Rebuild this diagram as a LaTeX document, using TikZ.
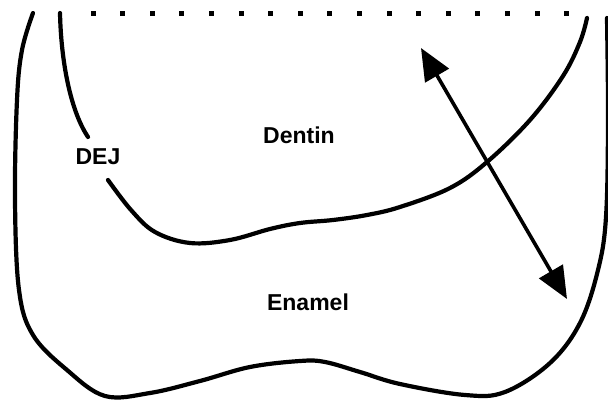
\documentclass[tikz,border=0pt]{standalone}
\usepackage{fontspec}
\setmainfont{Liberation Sans}
\usetikzlibrary{arrows.meta}

\tikzset{
    boundary/.style={line width=4.2pt, line cap=round, line join=round},
    tissue/.style={font=\bfseries\fontsize{23}{26}\selectfont, inner sep=2pt},
    marker/.style={fill=black, minimum size=5pt, inner sep=0pt, rectangle},
}

\begin{document}
\begin{tikzpicture}[x=1pt,y=-1pt]
    \useasboundingbox (0,0) rectangle (608,403);

    % cut edge along the top
    \foreach \k in {0,...,16}
        \node[marker] (dot\k) at (93+29.6*\k,14) {};

    % outer enamel surface
    \draw[boundary] plot[smooth, tension=0.6] coordinates {
        (33,13) (22,50) (17,100) (15,200) (19,290) (33,335) (67,370)
        (105,396) (150,393) (200,381) (250,367) (300,361) (325,362)
        (360,372) (400,384) (465,395) (505,392) (550,363) (580,323)
        (598,270) (606,217) (608,120) (607,18)};

    % dentino-enamel junction, broken for its label
    \draw[boundary] (60,13) .. controls (61,60) and (70,110) .. (88,137);
    \draw[boundary] plot[smooth, tension=0.6] coordinates {
        (108,180) (131,210) (155,232) (190,243) (230,240) (270,229)
        (300,223) (333,220) (367,215) (400,207) (450,188) (487,162)
        (530,120) (563,76) (580,42) (587,18)};

    \node[tissue] (dej) at (98,157) {DEJ};
    \node[tissue] (dentin) at (299,135) {Dentin};
    \node[tissue] (enamel) at (308,302) {Enamel};

    % direction across the junction
    \coordinate (ptop) at (421,48);
    \coordinate (pbot) at (567,299);
    \draw[line width=3.6pt, {Triangle[length=32pt,width=27pt]}-{Triangle[length=32pt,width=27pt]}]
        (ptop) -- (pbot);
\end{tikzpicture}
\end{document}
